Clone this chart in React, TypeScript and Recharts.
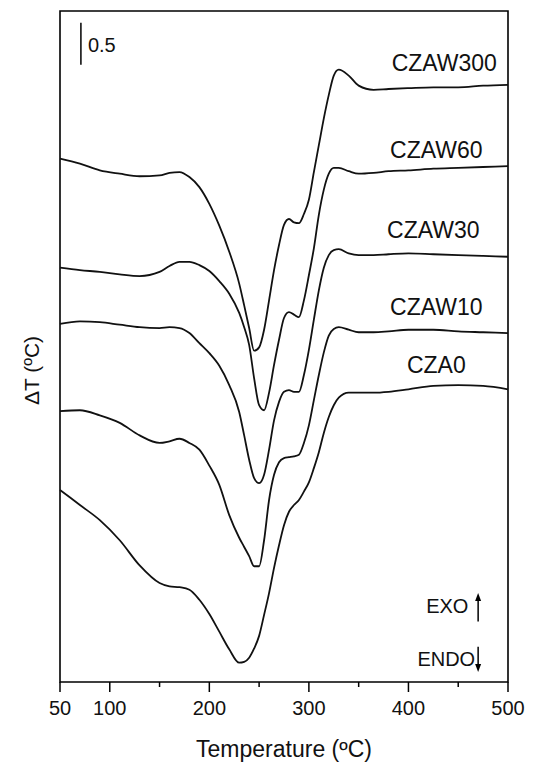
import React from "react";
import { LineChart, Line, XAxis, YAxis, ReferenceLine, ReferenceDot, ReferenceArea } from "recharts";

const temps = [50, 70, 90, 110, 130, 150, 160, 170, 180, 190, 200, 210, 220, 230, 235, 240, 245, 250, 255, 260, 265, 270, 275, 280, 285, 290, 295, 300, 305, 310, 315, 320, 325, 330, 340, 350, 365, 380, 400, 425, 450, 475, 500];

const czaw300 = [6.24, 6.18, 6.10, 6.06, 6.03, 6.04, 6.07, 6.08, 6.02, 5.90, 5.70, 5.44, 5.13, 4.75, 4.49, 4.22, 3.95, 3.99, 4.20, 4.55, 4.91, 5.21, 5.45, 5.52, 5.48, 5.47, 5.58, 5.75, 6.08, 6.40, 6.72, 7.00, 7.23, 7.30, 7.23, 7.11, 7.06, 7.07, 7.08, 7.09, 7.09, 7.11, 7.12];
const czaw60 = [4.94, 4.91, 4.89, 4.86, 4.84, 4.89, 4.96, 5.01, 5.01, 4.97, 4.90, 4.78, 4.63, 4.40, 4.23, 4.02, 3.62, 3.30, 3.24, 3.45, 3.78, 4.08, 4.34, 4.41, 4.38, 4.35, 4.55, 4.85, 5.17, 5.57, 5.87, 6.06, 6.13, 6.13, 6.09, 6.06, 6.07, 6.09, 6.10, 6.12, 6.13, 6.14, 6.15];
const czaw30 = [4.27, 4.30, 4.29, 4.26, 4.23, 4.22, 4.23, 4.22, 4.16, 4.04, 3.92, 3.77, 3.54, 3.22, 2.94, 2.65, 2.43, 2.37, 2.47, 2.77, 3.12, 3.34, 3.46, 3.48, 3.46, 3.46, 3.66, 3.96, 4.32, 4.67, 4.94, 5.09, 5.15, 5.16, 5.11, 5.09, 5.09, 5.10, 5.11, 5.10, 5.09, 5.08, 5.07];
const czaw10 = [3.23, 3.24, 3.18, 3.09, 2.94, 2.85, 2.87, 2.90, 2.85, 2.77, 2.58, 2.35, 1.99, 1.72, 1.61, 1.50, 1.38, 1.38, 1.69, 2.17, 2.47, 2.62, 2.67, 2.68, 2.69, 2.71, 2.85, 3.06, 3.36, 3.66, 3.93, 4.13, 4.21, 4.23, 4.20, 4.17, 4.17, 4.18, 4.20, 4.20, 4.18, 4.17, 4.16];
const cza0 = [2.29, 2.11, 1.93, 1.69, 1.39, 1.18, 1.14, 1.13, 1.10, 0.98, 0.81, 0.60, 0.39, 0.23, 0.24, 0.29, 0.40, 0.55, 0.80, 1.06, 1.36, 1.63, 1.87, 2.03, 2.11, 2.17, 2.27, 2.38, 2.55, 2.74, 2.97, 3.16, 3.30, 3.39, 3.45, 3.45, 3.45, 3.46, 3.49, 3.53, 3.54, 3.53, 3.49];

const seriesKeys = ["czaw300", "czaw60", "czaw30", "czaw10", "cza0"];
const seriesNames = ["CZAW300", "CZAW60", "CZAW30", "CZAW10", "CZA0"];
const seriesLabelT = [436, 428, 425, 428, 428];
const seriesLabelY = [7.38, 6.34, 5.39, 4.47, 3.78];

const xTicks = [50, 100, 150, 200, 250, 300, 350, 400, 450, 500];
const xTickLabels = ["50", "100", "", "200", "", "300", "", "400", "", "500"];

// scale bar, EXO / ENDO notes
const notes = [
  { text: "0.5", t: 92, v: 7.6 },
  { text: "EXO", t: 439, v: 0.91 },
  { text: "ENDO", t: 438, v: 0.28 },
];
const scaleBar = { t: 71, from: 7.86, to: 7.36 };
const arrows = [
  { t: 470, from: 0.72, to: 1.06 },
  { t: 470, from: 0.42, to: 0.12 },
];

const data = temps.map((t, i) => ({
  t,
  czaw300: czaw300[i],
  czaw60: czaw60[i],
  czaw30: czaw30[i],
  czaw10: czaw10[i],
  cza0: cza0[i],
}));

const XTick = (props: any) => {
  const { x, y, payload } = props;
  const label = xTickLabels[xTicks.indexOf(payload.value)];
  const major = label !== "";
  return (
    <g>
      <line x1={x} x2={x} y1={y} y2={y + (major ? 10 : 5)} stroke="#000" strokeWidth={1.5} />
      {major && (
        <text x={x} y={y + 33} textAnchor="middle" fontSize={20} fill="#111">
          {label}
        </text>
      )}
    </g>
  );
};

const YLabel = (props: any) => {
  const vb = props.viewBox;
  const cx = vb.x + 31;
  const cy = vb.y + vb.height / 2 + 24;
  return (
    <text x={cx} y={cy} transform={`rotate(-90 ${cx} ${cy})`} textAnchor="middle" dominantBaseline="central" fontSize={21} fill="#111">
      ΔT (ºC)
    </text>
  );
};

const arrowShape = (props: any) => {
  const { x1, y1, x2, y2 } = props;
  const dir = y2 > y1 ? 1 : -1;
  return (
    <g>
      <line x1={x1} y1={y1} x2={x2} y2={y2 - dir * 6} stroke="#000" strokeWidth={1.5} />
      <polygon points={`${x2 - 3},${y2 - dir * 8} ${x2 + 3},${y2 - dir * 8} ${x2},${y2}`} fill="#000" />
    </g>
  );
};

export default function App() {
  return (
    <div style={{ position: "absolute", left: 0, top: 0, background: "#fff", fontFamily: "'Liberation Sans', Arial, sans-serif" }}>
      <LineChart width={536} height={763} data={data} margin={{ top: 11, right: 28, bottom: 0, left: 0 }}>
        <XAxis
          dataKey="t"
          type="number"
          domain={[50, 500]}
          ticks={xTicks}
          interval={0}
          height={81}
          axisLine={false}
          tickLine={false}
          tickSize={0}
          tickMargin={0}
          tick={<XTick />}
          label={{ value: "Temperature (ºC)", position: "insideBottom", offset: 6, fontSize: 23, fill: "#111" }}
        />
        <YAxis type="number" domain={[0, 8]} width={60} tick={false} axisLine={false} tickLine={false} label={<YLabel />} />
        <ReferenceArea x1={50} x2={500} y1={0} y2={8} fill="none" stroke="#000" strokeWidth={1.6} />
        {seriesKeys.map((k) => (
          <Line key={k} dataKey={k} type="monotone" stroke="#111" strokeWidth={1.8} dot={false} isAnimationActive={false} />
        ))}
        {seriesNames.map((n, i) => (
          <ReferenceDot
            key={n}
            x={seriesLabelT[i]}
            y={seriesLabelY[i]}
            r={0}
            stroke="none"
            label={{ value: n, position: "center", fontSize: 23, fill: "#111" }}
          />
        ))}
        {notes.map((n) => (
          <ReferenceDot key={n.text} x={n.t} y={n.v} r={0} stroke="none" label={{ value: n.text, position: "center", fontSize: 20, fill: "#111" }} />
        ))}
        <ReferenceLine
          segment={[
            { x: scaleBar.t, y: scaleBar.from },
            { x: scaleBar.t, y: scaleBar.to },
          ]}
          stroke="#000"
          strokeWidth={1.5}
        />
        {arrows.map((a, i) => (
          <ReferenceLine
            key={i}
            segment={[
              { x: a.t, y: a.from },
              { x: a.t, y: a.to },
            ]}
            shape={arrowShape}
          />
        ))}
      </LineChart>
    </div>
  );
}
